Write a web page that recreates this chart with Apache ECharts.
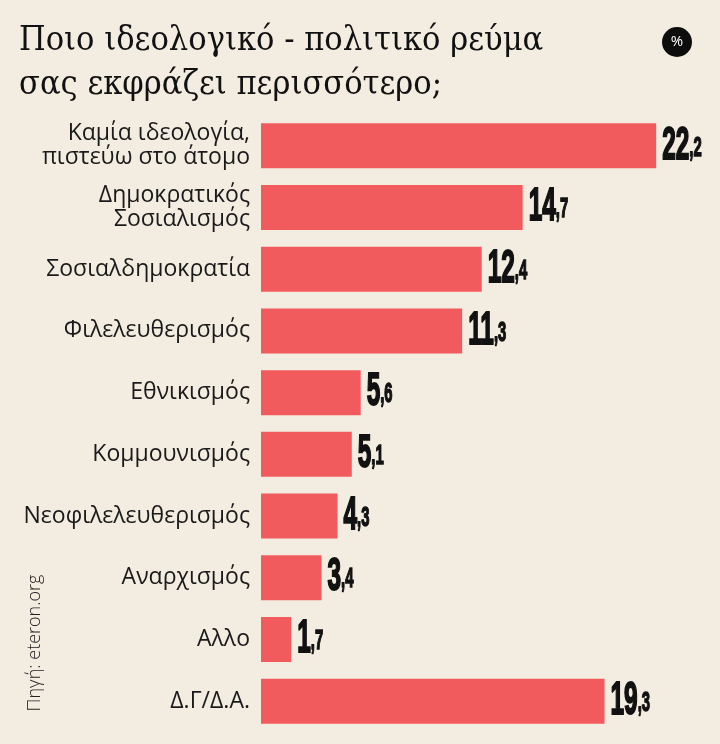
<!DOCTYPE html>
<html>
<head>
<meta charset="utf-8">
<script src="https://cdn.jsdelivr.net/npm/echarts@6/dist/echarts.min.js"></script>
<style>
  html, body { margin: 0; padding: 0; background: #f3ede1; }
  #chart { width: 720px; height: 744px; }
</style>
</head>
<body>
<div id="chart"></div>
<script>
// δεδομένα
const categories = [
  'Καμία ιδεολογία,\nπιστεύω στο άτομο',
  'Δημοκρατικός\nΣοσιαλισμός',
  'Σοσιαλδημοκρατία',
  'Φιλελευθερισμός',
  'Εθνικισμός',
  'Κομμουνισμός',
  'Νεοφιλελευθερισμός',
  'Αναρχισμός',
  'Αλλο',
  'Δ.Γ/Δ.Α.'
]
const values = [22.2, 14.7, 12.4, 11.3, 5.6, 5.1, 4.3, 3.4, 1.7, 19.3]

const titleText = 'Ποιο ιδεολογικό - πολιτικό ρεύμα\nσας εκφράζει περισσότερο;'
const sourceText = 'Πηγή: eteron.org'

const chart = echarts.init(document.getElementById('chart'))

function valueLabel(v) {
  const parts = v.toFixed(1).split('.')
  return '{a|' + parts[0] + '}{b|,' + parts[1] + '}'
}

chart.setOption({
  backgroundColor: '#f3ede1',
  animation: false,
  graphic: [
    {
      type: 'text',
      left: 19,
      top: 19,
      style: {
        text: titleText,
        font: '34px "DejaVu Serif Condensed"',
        lineHeight: 44,
        fill: '#111'
      }
    },
    {
      type: 'circle',
      shape: { cx: 677, cy: 42, r: 15 },
      style: { fill: '#0d0d0d' }
    },
    {
      type: 'text',
      x: 677,
      y: 42,
      style: {
        text: '%',
        font: '15px "Open Sans"',
        fill: '#fff',
        align: 'center',
        verticalAlign: 'middle'
      }
    },
    {
      type: 'text',
      x: 35,
      y: 643,
      rotation: Math.PI / 2,
      style: {
        text: sourceText,
        font: '300 18px "Open Sans"',
        fill: '#222',
        align: 'center',
        verticalAlign: 'middle'
      }
    }
  ],
  grid: {
    left: 261,
    right: 14,
    top: 115,
    bottom: 12
  },
  xAxis: {
    type: 'value',
    min: 0,
    max: 25,
    show: false
  },
  yAxis: {
    type: 'category',
    data: categories,
    inverse: true,
    axisLine: { show: false },
    axisTick: { show: false },
    axisLabel: {
      margin: 11,
      fontFamily: 'Open Sans',
      fontSize: 23,
      lineHeight: 24,
      color: '#1a1a1a'
    }
  },
  series: [
    {
      type: 'bar',
      data: values,
      barCategoryGap: '27%',
      itemStyle: { color: '#f15b5e' }
    },
    {
      type: 'custom',
      data: values.map((v, i) => [v, i]),
      encode: { x: 0, y: 1 },
      renderItem: (params, api) => {
        const pt = api.coord([api.value(0), api.value(1)])
        return {
          type: 'text',
          x: pt[0] + 6,
          y: pt[1] + 23,
          scaleX: 0.53,
          style: {
            text: valueLabel(api.value(0)),
            align: 'left',
            verticalAlign: 'bottom',
            fill: '#111',
            rich: {
              a: {
                fontFamily: 'Liberation Sans',
                fontWeight: 'bold',
                fontSize: 46,
                lineHeight: 40,
                verticalAlign: 'bottom',
                stroke: '#111',
                lineWidth: 2
              },
              b: {
                fontFamily: 'Liberation Sans',
                fontWeight: 'bold',
                fontSize: 28,
                lineHeight: 26,
                padding: [0, 0, 7, 0],
                verticalAlign: 'bottom',
                stroke: '#111',
                lineWidth: 1.5
              }
            }
          }
        }
      }
    }
  ]
})
</script>
</body>
</html>
